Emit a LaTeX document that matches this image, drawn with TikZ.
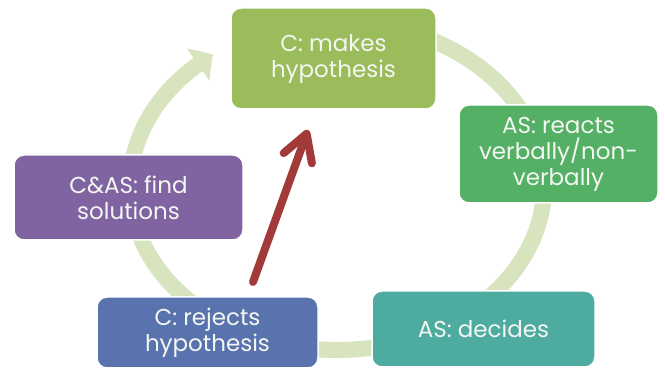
\documentclass[tikz,border=0pt]{standalone}
\usepackage{fontspec}
\setmainfont{Poppins}
\usetikzlibrary{arrows.meta,bending}
\definecolor{ringgreen}{RGB}{215,228,189}
\definecolor{olivebox}{RGB}{155,188,90}
\definecolor{greenbox}{RGB}{84,176,100}
\definecolor{tealbox}{RGB}{78,171,160}
\definecolor{bluebox}{RGB}{88,115,173}
\definecolor{purplebox}{RGB}{128,100,162}
\definecolor{arrowred}{RGB}{163,58,58}
\definecolor{labelwhite}{RGB}{244,246,242}
\tikzset{
  stagebox/.style={rectangle, rounded corners=10pt, draw=white, line width=1.5pt,
    text=labelwhite, align=center, inner sep=0pt,
    font=\fontsize{23}{26}\selectfont},
  cyclering/.style={draw=ringgreen, line width=16pt,
    -{Triangle[length=18pt,width=38pt,bend]}},
  jumparrow/.style={draw=arrowred, line width=8pt, line cap=round,
    -{Straight Barb[length=26pt,width=30pt,round]}}
}
\begin{document}
\begin{tikzpicture}[x=1pt,y=1pt]
  \useasboundingbox[fill=white] (0,0) rectangle (665,370);

  % cycle ring behind the stages
  \coordinate (ringc) at (337,184);
  \draw[cyclering] ([shift={(100:207 and 164)}]ringc)
    arc[start angle=100, end angle=-233.2, x radius=207, y radius=164];

  % stages of the cycle
  \node[stagebox, fill=olivebox, minimum width=205pt, minimum height=101pt]
    (hyp) at (333.5,311.5) {C: makes\\hypothesis};
  \node[stagebox, fill=greenbox, minimum width=199pt, minimum height=98pt]
    (react) at (558.5,216) {AS: reacts\\verbally/non-\\verbally};
  \node[stagebox, fill=tealbox, minimum width=223pt, minimum height=76pt]
    (decide) at (483.5,41) {AS: decides};
  \node[stagebox, fill=bluebox, minimum width=221pt, minimum height=71pt]
    (reject) at (207.5,37.5) {C: rejects\\hypothesis};
  \node[stagebox, fill=purplebox, minimum width=229pt, minimum height=85pt]
    (solve) at (128.5,172.5) {C\&AS: find\\solutions};

  % shortcut from rejecting back to a new hypothesis
  \coordinate (redtail) at (253,88);
  \coordinate (redtip) at (308,240);
  \draw[jumparrow] (redtail) -- (redtip);
\end{tikzpicture}
\end{document}
